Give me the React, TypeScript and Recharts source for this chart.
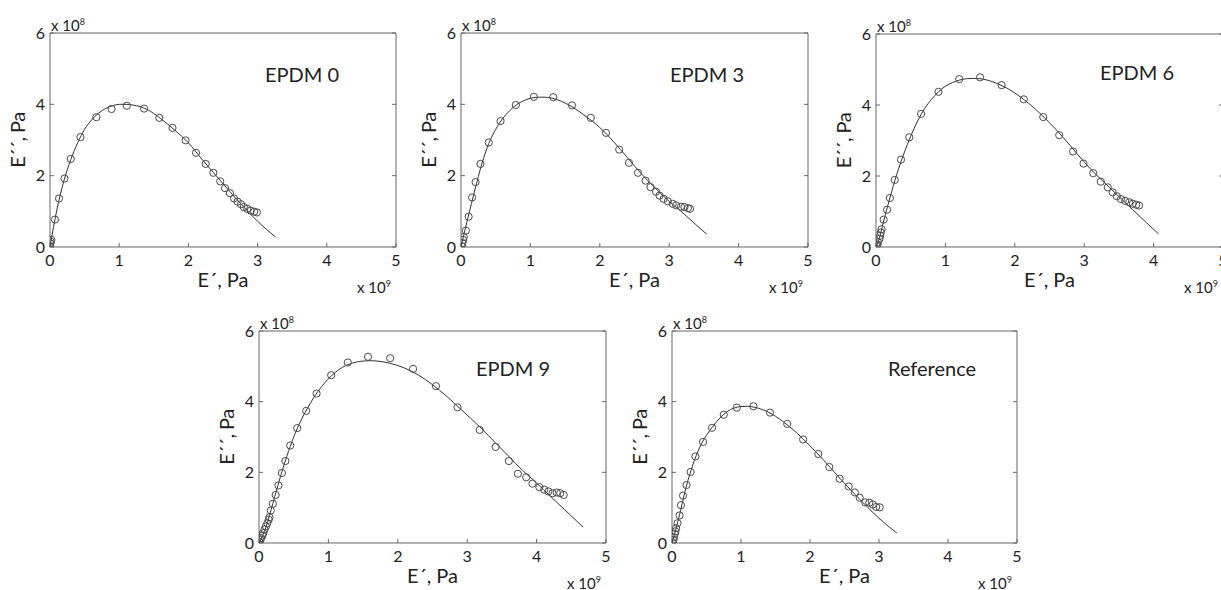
import React from "react";
import { ScatterChart, Scatter, XAxis, YAxis, Label } from "recharts";

// E' in units of 1e9 Pa, E'' in units of 1e8 Pa
const X_TICKS = [0, 1, 2, 3, 4, 5];
const Y_TICKS = [0, 2, 4, 6];

// EPDM 0
const epdm0X = [0, 0.005, 0.01, 0.02, 0.072, 0.13, 0.21, 0.3, 0.44, 0.67, 0.89, 1.11, 1.36, 1.58, 1.77, 1.96, 2.11, 2.25, 2.36, 2.46, 2.53, 2.6, 2.66, 2.71, 2.76, 2.8, 2.85, 2.9, 2.95, 2.99];
const epdm0Y = [0.02, 0.1, 0.15, 0.2, 0.77, 1.36, 1.92, 2.47, 3.08, 3.64, 3.87, 3.96, 3.88, 3.62, 3.34, 2.99, 2.64, 2.33, 2.08, 1.84, 1.65, 1.51, 1.36, 1.27, 1.2, 1.12, 1.07, 1.02, 0.99, 0.97];
const epdm0FitX = [0, 0.05, 0.1, 0.2, 0.3, 0.4, 0.5, 0.6, 0.7, 0.8, 0.9, 1.0, 1.1, 1.2, 1.4, 1.6, 1.8, 2.0, 2.2, 2.4, 2.6, 2.8, 3.0, 3.26];
const epdm0FitY = [0, 0.55, 1.05, 1.85, 2.45, 2.92, 3.3, 3.56, 3.75, 3.88, 3.96, 4.0, 4.0, 3.98, 3.86, 3.6, 3.28, 2.92, 2.45, 2.0, 1.55, 1.12, 0.72, 0.28];

// EPDM 3
const epdm3X = [0.01, 0.02, 0.03, 0.04, 0.07, 0.11, 0.16, 0.21, 0.28, 0.4, 0.57, 0.79, 1.05, 1.33, 1.6, 1.87, 2.09, 2.28, 2.42, 2.55, 2.66, 2.73, 2.81, 2.86, 2.92, 2.98, 3.05, 3.1, 3.17, 3.22, 3.27, 3.3];
const epdm3Y = [0.02, 0.11, 0.2, 0.28, 0.46, 0.85, 1.39, 1.82, 2.33, 2.93, 3.53, 3.98, 4.21, 4.2, 3.97, 3.62, 3.2, 2.73, 2.36, 2.08, 1.86, 1.68, 1.55, 1.44, 1.35, 1.28, 1.21, 1.17, 1.13, 1.12, 1.09, 1.07];
const epdm3FitX = [0, 0.05, 0.1, 0.2, 0.3, 0.4, 0.5, 0.6, 0.7, 0.8, 0.9, 1.0, 1.1, 1.2, 1.4, 1.6, 1.8, 2.0, 2.2, 2.4, 2.6, 2.8, 3.0, 3.2, 3.4, 3.54];
const epdm3FitY = [0, 0.42, 0.82, 1.6, 2.33, 2.9, 3.3, 3.6, 3.82, 3.99, 4.1, 4.17, 4.2, 4.2, 4.12, 3.93, 3.66, 3.35, 2.95, 2.5, 2.05, 1.65, 1.28, 0.95, 0.6, 0.36];

// EPDM 6
const epdm6X = [0.01, 0.02, 0.03, 0.05, 0.06, 0.07, 0.08, 0.11, 0.16, 0.2, 0.27, 0.36, 0.48, 0.65, 0.9, 1.2, 1.5, 1.81, 2.13, 2.41, 2.64, 2.84, 2.99, 3.13, 3.24, 3.34, 3.41, 3.47, 3.53, 3.59, 3.65, 3.7, 3.75, 3.79];
const epdm6Y = [0.02, 0.07, 0.13, 0.23, 0.32, 0.41, 0.5, 0.77, 1.05, 1.38, 1.89, 2.46, 3.09, 3.75, 4.37, 4.73, 4.78, 4.56, 4.16, 3.66, 3.15, 2.69, 2.35, 2.08, 1.84, 1.68, 1.54, 1.43, 1.35, 1.3, 1.26, 1.22, 1.19, 1.17];
const epdm6FitX = [0, 0.05, 0.1, 0.2, 0.3, 0.4, 0.5, 0.6, 0.7, 0.8, 0.9, 1.0, 1.1, 1.2, 1.3, 1.4, 1.5, 1.7, 1.9, 2.1, 2.3, 2.5, 2.7, 2.9, 3.1, 3.3, 3.5, 3.7, 3.9, 4.07];
const epdm6FitY = [0, 0.25, 0.65, 1.38, 2.05, 2.62, 3.12, 3.55, 3.9, 4.16, 4.37, 4.53, 4.63, 4.7, 4.74, 4.75, 4.74, 4.64, 4.46, 4.2, 3.88, 3.5, 3.08, 2.62, 2.18, 1.8, 1.42, 1.05, 0.68, 0.37];

// EPDM 9
const epdm9X = [0.005, 0.02, 0.03, 0.05, 0.06, 0.08, 0.1, 0.12, 0.14, 0.15, 0.17, 0.2, 0.24, 0.28, 0.33, 0.38, 0.45, 0.55, 0.68, 0.83, 1.04, 1.28, 1.57, 1.89, 2.22, 2.55, 2.86, 3.18, 3.41, 3.6, 3.73, 3.85, 3.94, 4.04, 4.11, 4.17, 4.23, 4.29, 4.34, 4.39];
const epdm9Y = [0.02, 0.08, 0.14, 0.21, 0.28, 0.38, 0.47, 0.56, 0.66, 0.73, 0.92, 1.11, 1.36, 1.63, 1.98, 2.32, 2.76, 3.25, 3.74, 4.23, 4.75, 5.11, 5.27, 5.23, 4.93, 4.44, 3.84, 3.2, 2.72, 2.32, 1.96, 1.86, 1.68, 1.58, 1.51, 1.46, 1.41, 1.43, 1.41, 1.36];
const epdm9FitX = [0, 0.1, 0.2, 0.3, 0.4, 0.5, 0.6, 0.7, 0.8, 0.9, 1.0, 1.1, 1.2, 1.3, 1.4, 1.5, 1.6, 1.7, 1.9, 2.1, 2.3, 2.5, 2.7, 2.9, 3.2, 3.4, 3.6, 3.8, 4.0, 4.2, 4.4, 4.67];
const epdm9FitY = [0, 0.45, 1.12, 1.82, 2.45, 3.0, 3.45, 3.82, 4.15, 4.42, 4.65, 4.83, 4.97, 5.06, 5.12, 5.15, 5.16, 5.15, 5.08, 4.95, 4.75, 4.48, 4.16, 3.8, 3.25, 2.85, 2.45, 2.05, 1.7, 1.32, 0.95, 0.45];

// Reference
const refX = [0.01, 0.02, 0.03, 0.04, 0.05, 0.06, 0.08, 0.11, 0.13, 0.16, 0.21, 0.27, 0.34, 0.45, 0.58, 0.75, 0.94, 1.18, 1.42, 1.67, 1.9, 2.12, 2.28, 2.43, 2.56, 2.65, 2.72, 2.8, 2.86, 2.91, 2.96, 3.01];
const refY = [0.02, 0.09, 0.16, 0.26, 0.33, 0.42, 0.56, 0.78, 1.07, 1.34, 1.64, 2.01, 2.45, 2.86, 3.26, 3.63, 3.83, 3.87, 3.69, 3.37, 2.93, 2.52, 2.15, 1.82, 1.6, 1.43, 1.28, 1.15, 1.14, 1.09, 1.02, 1.01];
const refFitX = [0, 0.05, 0.1, 0.2, 0.3, 0.4, 0.5, 0.6, 0.7, 0.8, 0.9, 1.0, 1.1, 1.2, 1.4, 1.6, 1.8, 2.0, 2.2, 2.4, 2.6, 2.8, 3.0, 3.26];
const refFitY = [0, 0.35, 0.72, 1.55, 2.2, 2.7, 3.05, 3.32, 3.55, 3.72, 3.82, 3.86, 3.87, 3.84, 3.7, 3.45, 3.13, 2.75, 2.34, 1.9, 1.48, 1.08, 0.7, 0.28];

const toPoints = (xs: number[], ys: number[]) => xs.map((x, i) => ({ x, y: ys[i] }));

const FONT = "Lato, 'Open Sans', sans-serif";
const INK = "#222";
const FRAME = "#666";

// chart box around the plot area: 50px left, 20px top, 5px right, 52px bottom
const PAD_L = 50;
const PAD_T = 20;

const Circle = (props: any) => (
  <circle cx={props.cx} cy={props.cy} r={3.6} fill="none" stroke="#4a4a4a" strokeWidth={1} />
);
const Nothing = () => <g />;

interface PanelProps {
  title: string;
  left: number;
  top: number;
  w: number;
  h: number;
  titleX: number;
  titleY: number;
  measured: { x: number; y: number }[];
  fit: { x: number; y: number }[];
}

function Panel({ title, left, top, w, h, titleX, titleY, measured, fit }: PanelProps) {
  const cw = w + PAD_L + 5;
  const ch = h + PAD_T + 52;
  return (
    <div style={{ position: "absolute", left: left - PAD_L, top: top - PAD_T, width: cw, height: ch }}>
      <ScatterChart width={cw} height={ch} margin={{ top: 19, right: 4, bottom: 12, left: 10 }}>
        <XAxis
          type="number"
          dataKey="x"
          domain={[0, 5]}
          ticks={X_TICKS}
          allowDataOverflow
          height={40}
          tickSize={-4}
          tickMargin={12}
          stroke={FRAME}
          tick={{ fontSize: 16, fill: INK }}
        >
          <Label value="E´, Pa" position="insideBottom" offset={0} style={{ fontSize: 20, fill: INK }} />
        </XAxis>
        <XAxis
          xAxisId="top"
          orientation="top"
          type="number"
          domain={[0, 5]}
          ticks={X_TICKS}
          allowDataOverflow
          height={1}
          tickSize={-4}
          tickFormatter={() => ""}
          stroke={FRAME}
        />
        <YAxis
          type="number"
          dataKey="y"
          domain={[0, 6]}
          ticks={Y_TICKS}
          allowDataOverflow
          width={40}
          tickSize={-4}
          tickMargin={9}
          stroke={FRAME}
          tick={{ fontSize: 16, fill: INK }}
        >
          <Label
            value="E´´, Pa"
            angle={-90}
            position="insideLeft"
            offset={8}
            style={{ fontSize: 20, fill: INK, textAnchor: "middle", letterSpacing: "-0.5px" }}
          />
        </YAxis>
        <YAxis
          yAxisId="right"
          orientation="right"
          type="number"
          domain={[0, 6]}
          ticks={Y_TICKS}
          allowDataOverflow
          width={1}
          tickSize={-4}
          tickFormatter={() => ""}
          stroke={FRAME}
        />
        <Scatter
          data={fit}
          line={{ stroke: "#333", strokeWidth: 1 }}
          lineJointType="monotoneX"
          shape={Nothing}
          isAnimationActive={false}
        />
        <Scatter data={measured} shape={Circle} isAnimationActive={false} />
      </ScatterChart>
      <div style={{ position: "absolute", left: PAD_L + 1, top: 2, fontSize: 15, color: INK, lineHeight: "14px" }}>
        x 10<sup style={{ fontSize: 9, verticalAlign: "6px" }}>8</sup>
      </div>
      <div
        style={{
          position: "absolute",
          left: PAD_L + w - 39,
          top: PAD_T + h + 30,
          fontSize: 15,
          color: INK,
          lineHeight: "14px",
          whiteSpace: "nowrap",
        }}
      >
        x 10<sup style={{ fontSize: 9, verticalAlign: "6px" }}>9</sup>
      </div>
      <div
        style={{
          position: "absolute",
          left: PAD_L + titleX,
          top: PAD_T + titleY - 12,
          fontSize: 20,
          lineHeight: "24px",
          color: INK,
          whiteSpace: "nowrap",
        }}
      >
        {title}
      </div>
    </div>
  );
}

export default function App() {
  return (
    <div
      style={{
        position: "absolute",
        left: 0,
        top: 0,
        width: 1221,
        height: 590,
        overflow: "hidden",
        background: "#fff",
        fontFamily: FONT,
      }}
    >
      <Panel title="EPDM 0" left={50} top={33} w={346} h={214} titleX={215} titleY={41}
        measured={toPoints(epdm0X, epdm0Y)} fit={toPoints(epdm0FitX, epdm0FitY)} />
      <Panel title="EPDM 3" left={461} top={33} w={347} h={214} titleX={209} titleY={41}
        measured={toPoints(epdm3X, epdm3Y)} fit={toPoints(epdm3FitX, epdm3FitY)} />
      <Panel title="EPDM 6" left={876} top={34} w={347} h={213} titleX={224} titleY={38}
        measured={toPoints(epdm6X, epdm6Y)} fit={toPoints(epdm6FitX, epdm6FitY)} />
      <Panel title="EPDM 9" left={259} top={331} w={347} h={212} titleX={217} titleY={37}
        measured={toPoints(epdm9X, epdm9Y)} fit={toPoints(epdm9FitX, epdm9FitY)} />
      <Panel title="Reference" left={672} top={331} w={345} h={212} titleX={216} titleY={37}
        measured={toPoints(refX, refY)} fit={toPoints(refFitX, refFitY)} />
    </div>
  );
}
